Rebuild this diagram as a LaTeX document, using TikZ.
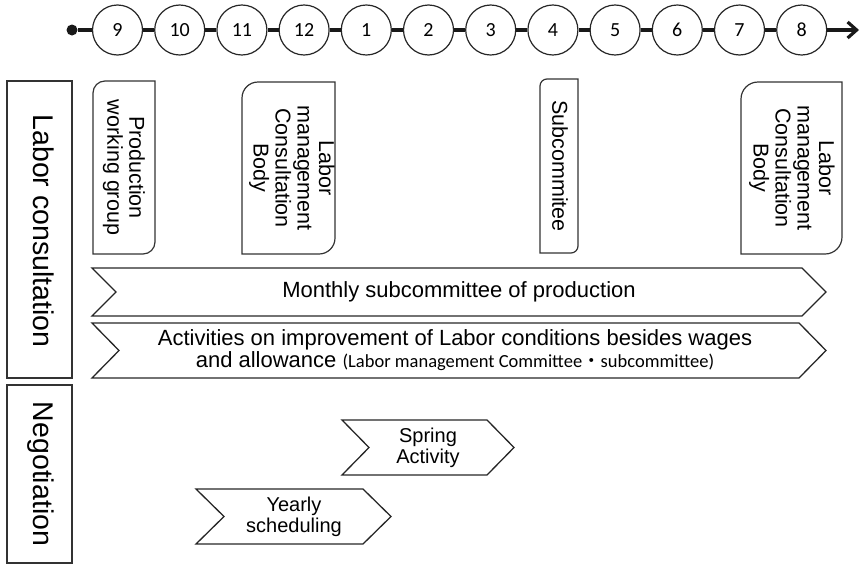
\documentclass[tikz,border=0pt]{standalone}
\usepackage{fontspec}
\setmainfont{Liberation Sans}
\newfontfamily\calib{Carlito}
\newfontfamily\cjk{Noto Sans CJK JP}
\usepackage{graphicx}
\usetikzlibrary{arrows.meta}

% vertical text, read from top to bottom
\newcommand{\vlabel}[2]{\rotatebox{-90}{\fontsize{#1}{#1}\selectfont\begin{tabular}{@{}c@{}}#2\end{tabular}}}
% box with rounded top-left and bottom-right corners: x1 y1 x2 y2 radius
\newcommand{\diagbox}[5]{%
  \draw[boxline] (#1,#4) -- (#1,{#2+#5})
    .. controls (#1,{#2+0.448*#5}) and ({#1+0.448*#5},#2) .. ({#1+#5},#2) -- (#3,#2)
    -- (#3,{#4-#5})
    .. controls (#3,{#4-0.448*#5}) and ({#3-0.448*#5},#4) .. ({#3-#5},#4) -- cycle;}
% notched arrow band: x-left x-tip y-top y-bottom depth
\newcommand{\chevron}[5]{%
  \draw[chevline] (#1,#3) -- ({#2-#5},#3) -- (#2,{(#3+#4)/2}) -- ({#2-#5},#4)
    -- (#1,#4) -- ({#1+#5},{(#3+#4)/2}) -- cycle;}

\tikzset{
  month/.style={circle, draw=black!85, line width=1.2pt, fill=white, minimum size=50pt,
                inner sep=0pt, font=\calib\fontsize{20}{20}\selectfont},
  startdot/.style={circle, fill=black!90, minimum size=11pt, inner sep=0pt},
  timeline/.style={line width=3.2pt, black!90},
  boxline/.style={draw=black!80, line width=1.2pt},
  chevline/.style={draw=black!85, line width=1.3pt},
  plain/.style={inner sep=0pt, align=center},
}

\begin{document}
\begin{tikzpicture}[x=1pt,y=-1pt]
\useasboundingbox (0,0) rectangle (861,565);

% ---- month timeline ----
\node[startdot] (start) at (72,30) {};
\foreach \m [count=\i from 0] in {9,10,11,12,1,2,3,4,5,6,7,8}
  \node[month] (m\m) at ({117.5+62.2*\i},30) {\m};
\coordinate (tip) at (859,30);
\draw[timeline] (start) -- (m9);
\foreach \a/\b in {9/10,10/11,11/12,12/1,1/2,2/3,3/4,4/5,5/6,6/7,7/8}
  \draw[timeline] (m\a) -- (m\b);
\draw[timeline,-{Straight Barb[length=9pt,width=16pt,line width=3.2pt]}] (m8) -- (tip);

% ---- row headers ----
\draw[boxline] (7,81) rectangle (72,378);
\node[plain] (consult) at (39.5,231) {\vlabel{28.5}{Labor consultation}};
\draw[boxline] (7,385) rectangle (72,563);
\node[plain] (negot) at (39.5,474) {\vlabel{28.5}{Negotiation}};

% ---- meeting bodies ----
\diagbox{93}{81}{155}{254}{12}
\node[plain] (prod) at (123,167.5) {\vlabel{21.5}{Production\\working group}};
\diagbox{242}{82}{335}{254}{16}
\node[plain] (lmcb1) at (291,168) {\vlabel{21.5}{Labor\\management\\Consultation\\Body}};
\diagbox{540}{79}{578}{253}{7}
\node[plain] (subc) at (557,166) {\vlabel{21.5}{Subcommitee}};
\diagbox{741}{82}{842}{254}{17}
\node[plain] (lmcb2) at (791,168) {\vlabel{21.5}{Labor\\management\\Consultation\\Body}};

% ---- activity bands ----
\chevron{92}{826}{268}{316}{24}
\node[plain, font=\fontsize{22}{22}\selectfont] (monthly) at (459,292) {Monthly subcommittee of production};
\chevron{92}{826}{323}{378}{27}
\node[plain, font=\fontsize{22}{22}\selectfont] (improve) at (455,350.5)
  {Activities on improvement of Labor conditions besides wages\\
   and allowance {\calib\fontsize{18.5}{22}\selectfont (Labor management Committee{\cjk ・}subcommittee)}};
\chevron{342}{514}{420}{475}{27}
\node[plain, font=\fontsize{20}{21}\selectfont] (spring) at (428,448) {Spring\\Activity};
\chevron{196}{391}{489}{544}{28}
\node[plain, font=\fontsize{20}{21}\selectfont] (yearly) at (294,517) {Yearly\\scheduling};
\end{tikzpicture}
\end{document}
